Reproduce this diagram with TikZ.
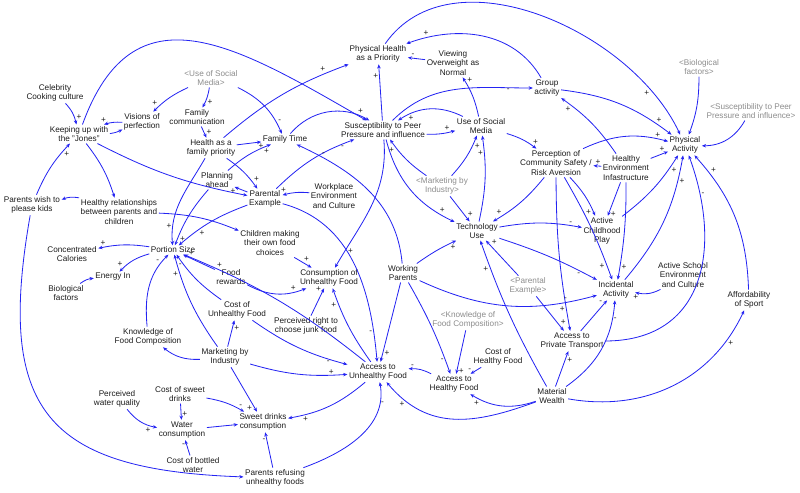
\documentclass[tikz,border=0pt]{standalone}
\usepackage{fontspec}
\setmainfont{Liberation Sans}
\definecolor{cldBlue}{HTML}{2424F2}
\definecolor{cldText}{HTML}{1C1C1C}
\definecolor{cldShadow}{HTML}{8C8C8C}
\usepackage{tikz}
\usetikzlibrary{arrows.meta}

\begin{document}
\begin{tikzpicture}[x=0.03cm, y=0.03cm, font=\fontsize{7}{8.3}\selectfont,
  var/.style={text=cldText, align=center, inner sep=1.2pt},
  shadowvar/.style={var, text=cldShadow},
  link/.style={draw=cldBlue, line width=0.7pt, -{Stealth[length=3.6pt,width=3pt]}},
  pol/.style={text=cldText, inner sep=0.6pt, pos=0.85, auto}]
\useasboundingbox (0,0) rectangle (800,-492);

% variables
\node[var] (cel) at (55,-93) {Celebrity\\Cooking culture};
\node[var] (jones) at (79,-134) {Keeping up with\\the "Jones"};
\node[var] (vis) at (142,-122) {Visions of\\perfection};
\node[shadowvar] (usmG) at (211,-78) {<Use of Social\\Media>};
\node[var] (famcom) at (197,-117) {Family\\communication};
\node[var] (hfp) at (211,-148) {Health as a\\family priority};
\node[var] (famt) at (285,-139) {Family Time};
\node[var] (phpri) at (378,-54) {Physical Health\\as a Priority};
\node[var] (vow) at (453,-63) {Viewing\\Overweight as\\Normal};
\node[var] (grp) at (547,-88) {Group\\activity};
\node[shadowvar] (bioG) at (699,-67) {<Biological\\factors>};
\node[shadowvar] (suscG) at (751,-111) {<Susceptibility to Peer\\Pressure and influence>};
\node[var] (pa) at (685,-145) {Physical\\Activity};
\node[var] (susc) at (383,-130) {Susceptibility to Peer\\Pressure and influence};
\node[var] (usm) at (481,-126) {Use of Social\\Media};
\node[var] (perc) at (556,-163) {Perception of\\Community Safety /\\Risk Aversion};
\node[var] (hei) at (626,-168) {Healthy\\Environment\\Infastructure};
\node[var] (plan) at (217,-180) {Planning\\ahead};
\node[var] (pex) at (265,-199) {Parental\\Example};
\node[var] (work) at (334,-196) {Workplace\\Environment\\and Culture};
\node[shadowvar] (mktG) at (442,-186) {<Marketing by\\Industry>};
\node[var] (tech) at (477,-231) {Technology\\Use};
\node[var] (acp) at (602,-231) {Active\\Childhood\\Play};
\node[var] (wish) at (32,-205) {Parents wish to\\please kids};
\node[var] (hrel) at (119,-212) {Healthy relationships\\between parents and\\children};
\node[var] (child) at (270,-243) {Children making\\their own food\\choices};
\node[var] (ccal) at (72,-254) {Concentrated\\Calories};
\node[var] (ps) at (173,-250) {Portion Size};
\node[var] (ein) at (113,-277) {Energy In};
\node[var] (bio) at (66,-293) {Biological\\factors};
\node[var] (frew) at (231,-277) {Food\\rewards};
\node[var] (cons) at (329,-278) {Consumption of\\Unhealthy Food};
\node[var] (wp) at (403,-273) {Working\\Parents};
\node[shadowvar] (pexG) at (528,-286) {<Parental\\Example>};
\node[var] (inc) at (616,-290) {Incidental\\Activity};
\node[var] (ase) at (683,-275) {Active School\\Environment\\and Culture};
\node[var] (aff) at (749,-300) {Affordability\\of Sport};
\node[var] (cuf) at (237,-310) {Cost of\\Unhealthy Food};
\node[var] (junk) at (306,-326) {Perceived right to\\choose junk food};
\node[shadowvar] (kfcG) at (468,-320) {<Knowledge of\\Food Composition>};
\node[var] (kfc) at (148,-337) {Knowledge of\\Food Composition};
\node[var] (mkt) at (225,-357) {Marketing by\\Industry};
\node[var] (apt) at (572,-341) {Access to\\Private Transport};
\node[var] (chf) at (498,-357) {Cost of\\Healthy Food};
\node[var] (auf) at (378,-372) {Access to\\Unhealthy Food};
\node[var] (ahf) at (454,-384) {Access to\\Healthy Food};
\node[var] (mw) at (552,-396) {Material\\Wealth};
\node[var] (csd) at (180,-394) {Cost of sweet\\drinks};
\node[var] (pwq) at (117,-399) {Perceived\\water quality};
\node[var] (wc) at (182,-430) {Water\\consumption};
\node[var] (sdc) at (263,-422) {Sweet drinks\\consumption};
\node[var] (cbw) at (193,-465) {Cost of bottled\\water};
\node[var] (prf) at (275,-478) {Parents refusing\\unhealthy foods};

% family and peer links
\draw[link] (cel) to[bend left=15] node[pol]{+} (jones);
\draw[link] (vis) to[bend right=10] node[pol,swap]{+} (jones);
\draw[link] (jones) to[bend right=10] (vis);
\draw[link] (usmG) to[bend right=10] node[pol,swap]{+} (vis);
\draw[link] (usmG) to[bend left=10] node[pol,pos=0.55]{+} (famcom);
\draw[link] (famcom) -- node[pol]{+} (hfp);
\draw[link] (hfp) -- node[pol,swap]{+} (famt);
\draw[link] (hfp) to[bend left=10] node[pol]{+} (phpri);
\draw[link] (usmG) to[bend left=20] node[pol]{-} (famt);
\draw[link] (hfp) to[bend left=10] node[pol]{+} (pex);
\draw[link] (plan) to[bend left=10] node[pol,swap]{+} (famt);
\draw[link] (pex) -- node[pol]{+} (plan);
\draw[link] (work) to[bend right=10] node[pol,swap]{+} (pex);
\draw[link] (pex) to[bend left=12] node[pol,swap]{-} (susc);
\draw[link] (famt) to[bend left=40] node[pol]{+} (susc);
\draw[link] (wp) to[out=95,in=-25] node[pol,swap]{-} (famt);
\draw[link] (jones) to[out=70,in=150,looseness=1.35] (susc);
\draw[link] (susc) -- node[pol]{+} (phpri);
\draw[link] (vow) -- node[pol,swap]{-} (phpri);
\draw[link] (grp) to[out=120,in=20] node[pol,swap]{+} (phpri);
\draw[link] (phpri) to[out=55,in=115,looseness=0.95] node[pol,swap]{+} (pa);
\draw[link] (grp) to[bend left=15] node[pol]{+} (pa);
\draw[link] (susc) to[out=45,in=180] node[pol,swap]{-} (grp);
\draw[link] (usm) to[bend right=10] node[pol,swap]{+} (vow);
\draw[link] (susc) to[bend right=8] node[pol]{+} (usm);
\draw[link] (usm) to[bend right=30] node[pol]{+} (susc);
\draw[link] (mktG) to[bend left=10] node[pol]{+} (susc);
\draw[link] (mktG) to[bend right=10] node[pol,swap]{+} (usm);
\draw[link] (mktG) -- node[pol]{+} (tech);
\draw[link] (susc) to[bend right=25] node[pol]{+} (tech);
\draw[link] (tech) to[bend right=10] node[pol]{+} (usm);
\draw[link] (usm) to[bend left=10] node[pol]{+} (perc);
\draw[link] (hei) -- node[pol,swap]{+} (perc);

% activity links
\draw[link] (perc) to[bend left=10] node[pol,swap]{+} (tech);
\draw[link] (perc) to[bend left=10] node[pol,swap]{+} (acp);
\draw[link] (perc) to[bend left=5] node[pol,swap]{+} (inc);
\draw[link] (perc) to[bend right=5] node[pol,swap]{+} (apt);
\draw[link] (perc) to[bend left=20] node[pol]{+} (pa);
\draw[link] (hei) -- node[pol]{+} (pa);
\draw[link] (hei) to[bend right=10] node[pol]{+} (grp);
\draw[link] (hei) -- node[pol]{+} (acp);
\draw[link] (hei) to[bend left=5] node[pol]{+} (inc);
\draw[link] (tech) to[bend left=10] node[pol]{-} (acp);
\draw[link] (acp) to[bend right=10] node[pol,swap]{+} (pa);
\draw[link] (inc) to[bend right=15] node[pol,swap]{+} (pa);
\draw[link] (aff) to[bend right=20] node[pol,swap]{+} (pa);
\draw[link] (apt) to[out=0,in=-70,looseness=1.25] node[pol,swap]{-} (pa);
\draw[link] (bioG) to[bend left=10] (pa);
\draw[link] (suscG) to[bend left=30] (pa);
\draw[link] (ase) to[bend left=20] node[pol]{+} (inc);
\draw[link] (mw) to[bend right=25] node[pol,swap]{-} (inc);
\draw[link] (mw) to[out=-10,in=-115] node[pol,swap]{+} (aff);
\draw[link] (mw) -- node[pol,swap]{+} (apt);
\draw[link] (mw) to[bend left=5] node[pol]{+} (tech);
\draw[link] (mw) to[bend left=25] node[pol]{+} (ahf);
\draw[link] (mw) to[out=-160,in=-50,looseness=1.1] node[pol]{+} (auf);
\draw[link] (wp) to[bend left=5] node[pol,swap]{+} (tech);
\draw[link] (wp) to[bend right=20] node[pol]{-} (inc);
\draw[link] (tech) to[bend left=5] node[pol,swap]{-} (inc);
\draw[link] (pexG) -- node[pol,swap]{+} (tech);
\draw[link] (pexG) -- node[pol]{+} (apt);
\draw[link] (apt) -- node[pol]{-} (inc);

% food links
\draw[link] (ahf) to[bend right=15] node[pol,swap]{-} (auf);
\draw[link] (chf) -- node[pol,swap]{-} (ahf);
\draw[link] (wp) to[bend left=5] node[pol,swap]{-} (ahf);
\draw[link] (kfcG) -- node[pol]{+} (ahf);
\draw[link] (wp) -- node[pol]{+} (auf);
\draw[link] (pex) to[out=-15,in=95] node[pol,swap]{-} (auf);
\draw[link] (susc) to[out=-85,in=60] node[pol]{+} (cons);
\draw[link] (child) -- node[pol,pos=0.5]{+} (cons);
\draw[link] (frew) to[bend right=25] node[pol]{+} (cons);
\draw[link] (junk) -- node[pol]{+} (cons);
\draw[link] (auf) to[bend left=8] node[pol]{+} (cons);
\draw[link] (cuf) to[bend right=10] node[pol,swap]{-} (auf);
\draw[link] (mkt) to[bend right=10] node[pol]{+} (auf);
\draw[link] (auf) to[bend right=8] node[pol,swap]{+} (ps);
\draw[link] (auf) to[bend left=15] node[pol]{+} (sdc);
\draw[link] (prf) to[out=20,in=-80] node[pol,swap]{-} (auf);
\draw[link] (prf) -- node[pol]{-} (sdc);
\draw[link] (mkt) -- node[pol,swap]{+} (sdc);
\draw[link] (mkt) -- node[pol,swap]{+} (cuf);
\draw[link] (mkt) to[bend left=10] node[pol]{+} (ps);
\draw[link] (mkt) to[bend left=20] (kfc);
\draw[link] (kfc) to[out=95,in=-135] node[pol]{-} (ps);
\draw[link] (cuf) to[bend left=10] node[pol]{-} (ps);
\draw[link] (frew) -- node[pol,swap]{+} (ps);
\draw[link] (ps) to[bend right=10] node[pol,swap]{+} (ccal);
\draw[link] (ps) to[bend right=15] node[pol,swap]{+} (ein);
\draw[link] (bio) to[bend left=15] (ein);
\draw[link] (plan) to[bend right=10] node[pol]{+} (ps);
\draw[link] (pex) to[bend right=10] node[pol,pos=0.7]{+} (ps);
\draw[link] (hfp) to[out=-120,in=95] node[pol,swap]{+} (ps);
\draw[link] (jones) to[bend left=10] (hrel);
\draw[link] (jones) to[bend right=8] (pex);
\draw[link] (hrel) to[bend right=15] (wish);
\draw[link] (hrel) to[bend left=10] (child);
\draw[link] (wish) to[bend left=10] node[pol,swap]{+} (jones);
\draw[link] (wish) to[out=-100,in=178,looseness=1.5] (prf);
\draw[link] (csd) -- node[pol]{+} (wc);
\draw[link] (csd) to[bend left=10] node[pol]{-} (sdc);
\draw[link] (pwq) to[bend right=20] node[pol,swap]{+} (wc);
\draw[link] (cbw) -- node[pol]{-} (wc);
\draw[link] (wc) -- (sdc);
\end{tikzpicture}
\end{document}
